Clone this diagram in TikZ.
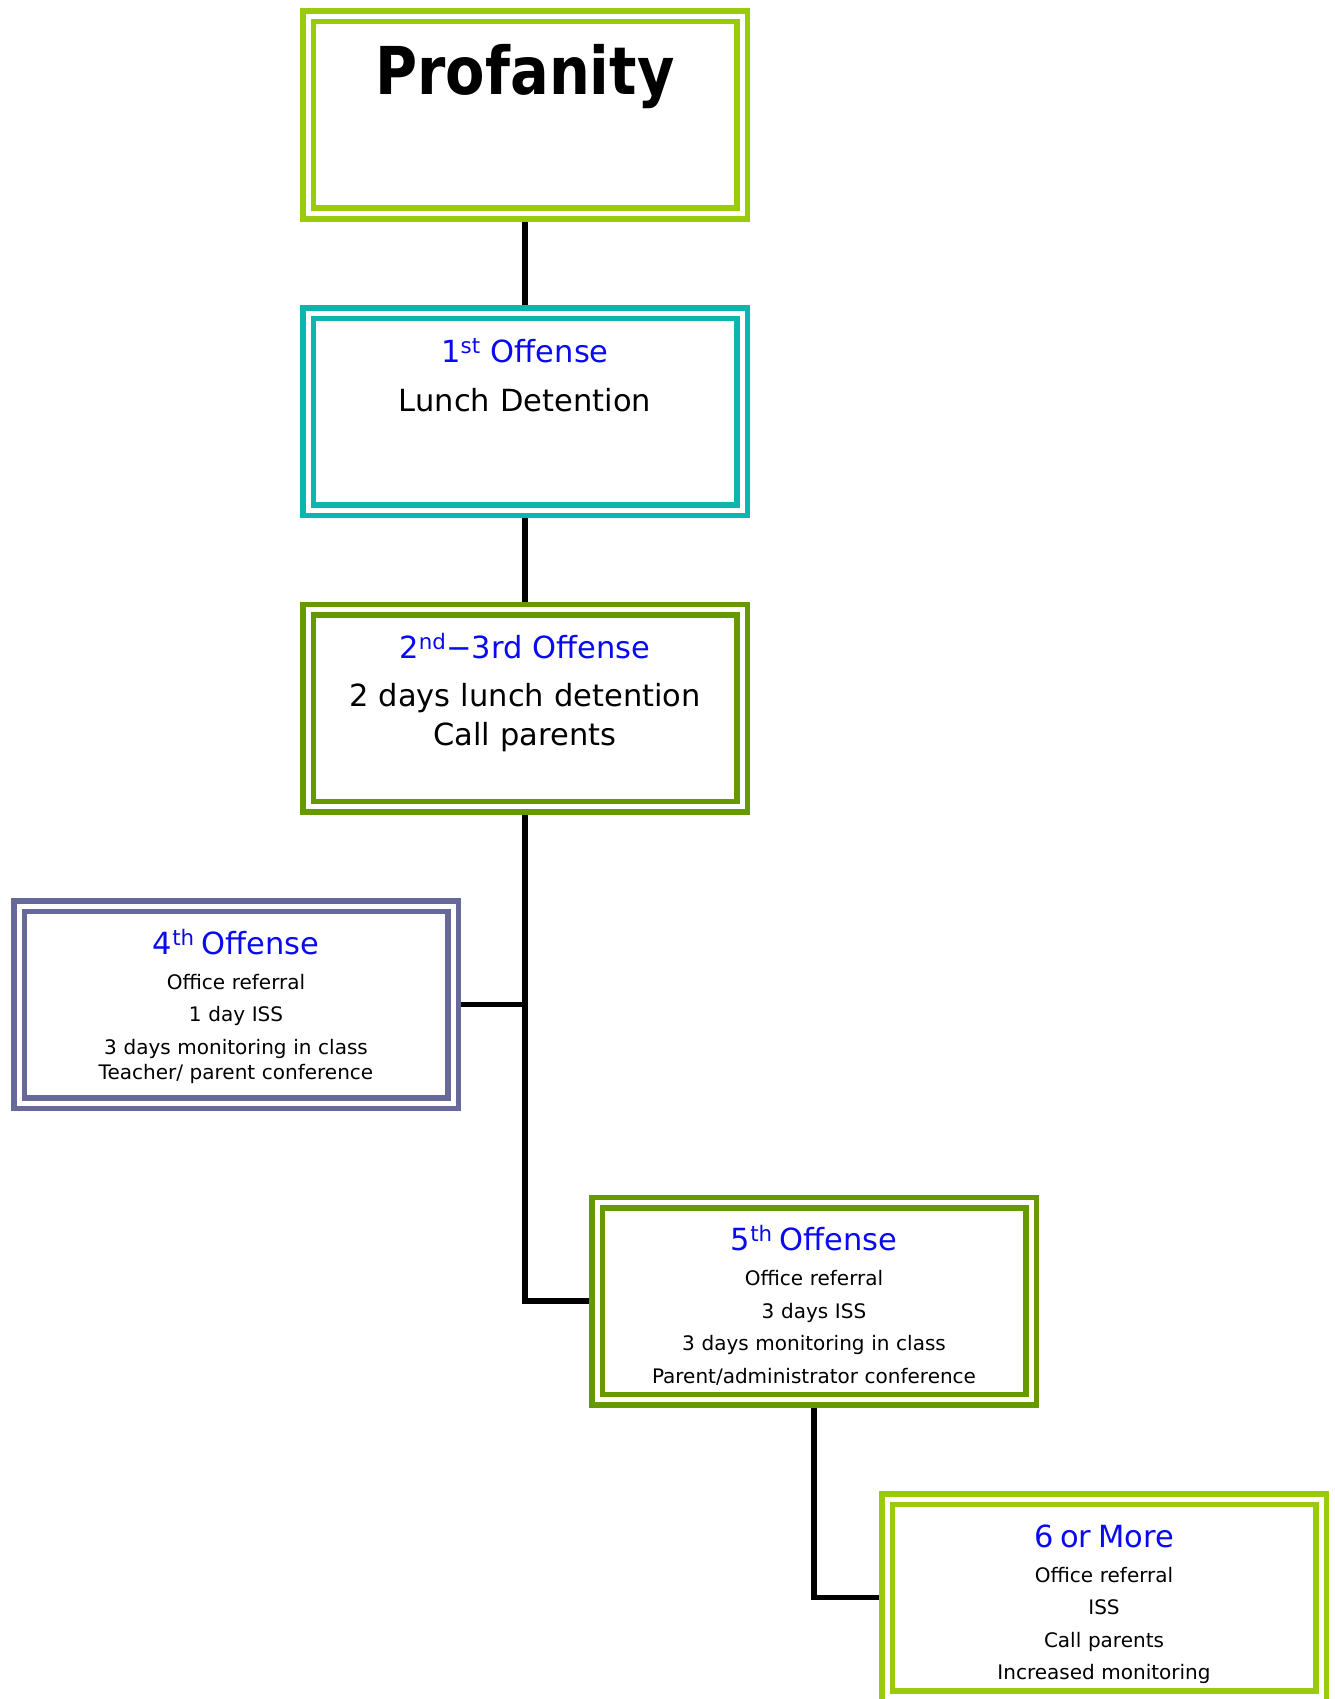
\documentclass[tikz,border=0pt]{standalone}
\usepackage{fontspec}
\setmainfont{DejaVu Sans}
\newfontfamily\headfont{DejaVu Sans}[FakeStretch=0.87]
\usepackage{xcolor}
\usetikzlibrary{backgrounds}
\definecolor{limeline}{RGB}{154,203,10}
\definecolor{tealline}{RGB}{12,181,174}
\definecolor{oliveline}{RGB}{102,153,0}
\definecolor{slateline}{RGB}{103,105,155}
\definecolor{titleblue}{RGB}{10,10,240}

\begin{document}
\begin{tikzpicture}[
  x=1pt, y=-1pt,
  frame/.style={
     rectangle, draw=#1, fill=white,
     line width=5.5pt, double=white, double distance=5pt,
     minimum width=434pt, minimum height=197pt, inner sep=0pt},
  txt/.style={anchor=base, text width=420pt, align=center, inner sep=0pt},
  bigtxt/.style={txt, font=\fontsize{30.5}{39}\selectfont},
  smalltxt/.style={txt, font=\fontsize{20}{32.5}\selectfont},
  link/.style={line width=5.5pt, black}]
\useasboundingbox (0,0) rectangle (1335,1699);
% column of boxes
\node[frame=limeline]  (prof)   at (525,115)   {};
\node[frame=tealline]  (first)  at (525,411.5) {};
\node[frame=oliveline] (second) at (525,708)   {};
% side boxes
\node[frame=slateline] (fourth) at (236,1004.5) {};
\node[frame=oliveline] (fifth)  at (814,1301)   {};
\node[frame=limeline]  (sixth)  at (1104,1597.5) {};
% texts
\node[txt, font={\headfont\bfseries\fontsize{66}{70}\selectfont}]
  (proftxt) at ([yshift=-81pt]prof.north) {Profanity};
\node[bigtxt] (firsttxt) at ([yshift=-52pt]first.north)
  {\textcolor{titleblue}{1\textsuperscript{st} Offense}\\[10pt]
   Lunch Detention};
\node[bigtxt] (secondtxt) at ([yshift=-52pt]second.north)
  {\textcolor{titleblue}{2\textsuperscript{nd}−3rd Offense}\\[9pt]
   2 days lunch detention\\
   Call parents};
\node[smalltxt] (fourthtxt) at ([yshift=-51pt]fourth.north)
  {{\fontsize{30.5}{39}\selectfont\color{titleblue}4\textsuperscript{th} Offense}\\[2.5pt]
   Office referral\\
   1 day ISS\\
   3 days monitoring in class\\[-7.5pt]
   Teacher/ parent conference};
\node[smalltxt] (fifthtxt) at ([yshift=-51pt]fifth.north)
  {{\fontsize{30.5}{39}\selectfont\color{titleblue}5\textsuperscript{th} Offense}\\[2.5pt]
   Office referral\\
   3 days ISS\\
   3 days monitoring in class\\
   Parent/administrator conference};
\node[smalltxt] (sixthtxt) at ([yshift=-51pt]sixth.north)
  {{\fontsize{30.5}{39}\selectfont\color{titleblue}6 or More}\\[2.5pt]
   Office referral\\
   ISS\\
   Call parents\\
   Increased monitoring};
% connectors
\begin{scope}[on background layer]
\draw[link] (prof) -- (first);
\draw[link] (first) -- (second);
\draw[link] (second.south) |- (fifth.west);
\draw[link] (fourth.east) -- (fourth.east -| second.south);
\draw[link] (fifth.south) |- (sixth.west);
\end{scope}
\end{tikzpicture}
\end{document}
